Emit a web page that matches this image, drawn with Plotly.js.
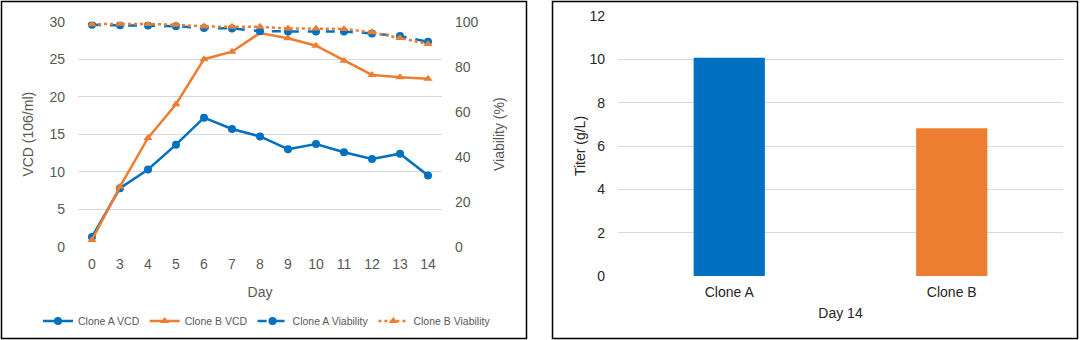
<!DOCTYPE html>
<html><head><meta charset="utf-8">
<script src="https://cdn.plot.ly/plotly-3.0.1.min.js"></script>
<style>html,body{margin:0;padding:0;background:#fff}</style>
</head><body><div id="chart" style="width:1080px;height:340px"></div>
<script>
const days = ['0','3','4','5','6','7','8','9','10','11','12','13','14'];
const cloneAVCD = [1.3,7.8,10.3,13.6,17.2,15.7,14.7,13.0,13.7,12.6,11.7,12.4,9.5];
const cloneBVCD = [0.9,8.0,14.5,19.0,25.0,26.0,28.5,27.8,26.8,24.8,22.9,22.6,22.4];
const cloneAViab = [98.6,98.4,98.3,98.0,97.2,97.0,95.8,95.6,95.6,95.6,94.8,93.6,91.1];
const cloneBViab = [98.9,99.1,99.0,98.6,97.9,97.7,97.7,97.0,97.0,96.8,95.3,92.7,90.1];
const clones = ['Clone A','Clone B'];
const titerDay14 = [10.07,6.82];

const BLUE = '#0070C0', ORANGE = '#ED7D31', GRID = '#D9D9D9';
const FONT = 'Arial, "Liberation Sans", sans-serif';
const TXT = '#595959';
const W = 1080, H = 340;
const px = x => x / W, py = y => (H - y) / H;

const traces = [
  {x: days, y: cloneAVCD, name: 'Clone A VCD', type: 'scatter', mode: 'lines+markers',
   line: {color: BLUE, width: 2.5}, marker: {symbol: 'circle', size: 8, color: BLUE}, xaxis: 'x', yaxis: 'y'},
  {x: days, y: cloneBVCD, name: 'Clone B VCD', type: 'scatter', mode: 'lines+markers',
   line: {color: ORANGE, width: 2.5}, marker: {symbol: 'triangle-up', size: 8, color: ORANGE}, xaxis: 'x', yaxis: 'y'},
  {x: days, y: cloneAViab, name: 'Clone A Viability', type: 'scatter', mode: 'lines+markers',
   line: {color: BLUE, width: 2.5, dash: 'dash'}, marker: {symbol: 'circle', size: 8, color: BLUE}, xaxis: 'x', yaxis: 'y2'},
  {x: days, y: cloneBViab, name: 'Clone B Viability', type: 'scatter', mode: 'lines+markers',
   line: {color: ORANGE, width: 2.5, dash: 'dot'}, marker: {symbol: 'triangle-up', size: 8, color: ORANGE}, xaxis: 'x', yaxis: 'y2'},
  {x: clones, y: titerDay14, type: 'bar', marker: {color: [BLUE, ORANGE]}, showlegend: false, xaxis: 'x2', yaxis: 'y3'}
];

const layout = {
  width: W, height: H,
  margin: {l: 0, r: 0, t: 0, b: 0},
  paper_bgcolor: '#fff', plot_bgcolor: '#fff',
  font: {family: FONT, size: 14, color: TXT},
  showlegend: true,
  legend: {orientation: 'h', x: px(267), xanchor: 'center', y: py(321), yanchor: 'middle',
           font: {size: 10.5, color: TXT}, bgcolor: 'rgba(0,0,0,0)', itemwidth: 30},
  bargap: 0.68,
  xaxis: {domain: [px(78), px(442)], type: 'category', range: [-0.5, 12.5], autorange: false,
          showgrid: false, zeroline: false, showline: false,
          ticks: '', ticklabelstandoff: 7, tickfont: {size: 14, color: TXT},
          title: {text: 'Day', font: {size: 14, color: TXT}, standoff: 16}},
  yaxis: {domain: [py(246.7), py(21.7)], range: [0, 30], dtick: 5, showgrid: true, gridcolor: GRID, gridwidth: 1,
          zeroline: false, showline: false, ticks: '', ticklabelstandoff: 12, tickfont: {size: 14, color: TXT},
          title: {text: 'VCD (106/ml)', font: {size: 14, color: TXT}, standoff: 12}},
  yaxis2: {overlaying: 'y', side: 'right', range: [0, 100], dtick: 20, showgrid: false, zeroline: false,
           showline: false, ticks: '', ticklabelstandoff: 12, tickfont: {size: 14, color: TXT},
           title: {text: 'Viability (%)', font: {size: 14, color: TXT}, standoff: 16}},
  xaxis2: {domain: [px(618), px(1063)], anchor: 'y3', showgrid: false, zeroline: false, showline: false,
           ticks: '', ticklabelstandoff: 6, tickfont: {size: 14, color: '#262626'},
           title: {text: 'Day 14', font: {size: 14, color: '#262626'}, standoff: 9}},
  yaxis3: {domain: [py(276), py(16)], anchor: 'x2', range: [0, 12], dtick: 2, showgrid: true, gridcolor: GRID,
           zeroline: false, showline: false, ticks: '', ticklabelstandoff: 12, tickfont: {size: 14, color: '#262626'},
           title: {text: 'Titer (g/L)', font: {size: 14, color: '#262626'}, standoff: 0}},
  shapes: [
    {type: 'rect', xref: 'paper', yref: 'paper', x0: px(1.5), x1: px(526.5), y0: py(338.5), y1: py(1.5),
     line: {color: '#000', width: 1.5}, fillcolor: 'rgba(0,0,0,0)'},
    {type: 'rect', xref: 'paper', yref: 'paper', x0: px(552.5), x1: px(1077.5), y0: py(338.5), y1: py(1.5),
     line: {color: '#000', width: 1.5}, fillcolor: 'rgba(0,0,0,0)'}
  ]
};

Plotly.newPlot('chart', traces, layout, {displayModeBar: false, staticPlot: true});
</script>
</body></html>
